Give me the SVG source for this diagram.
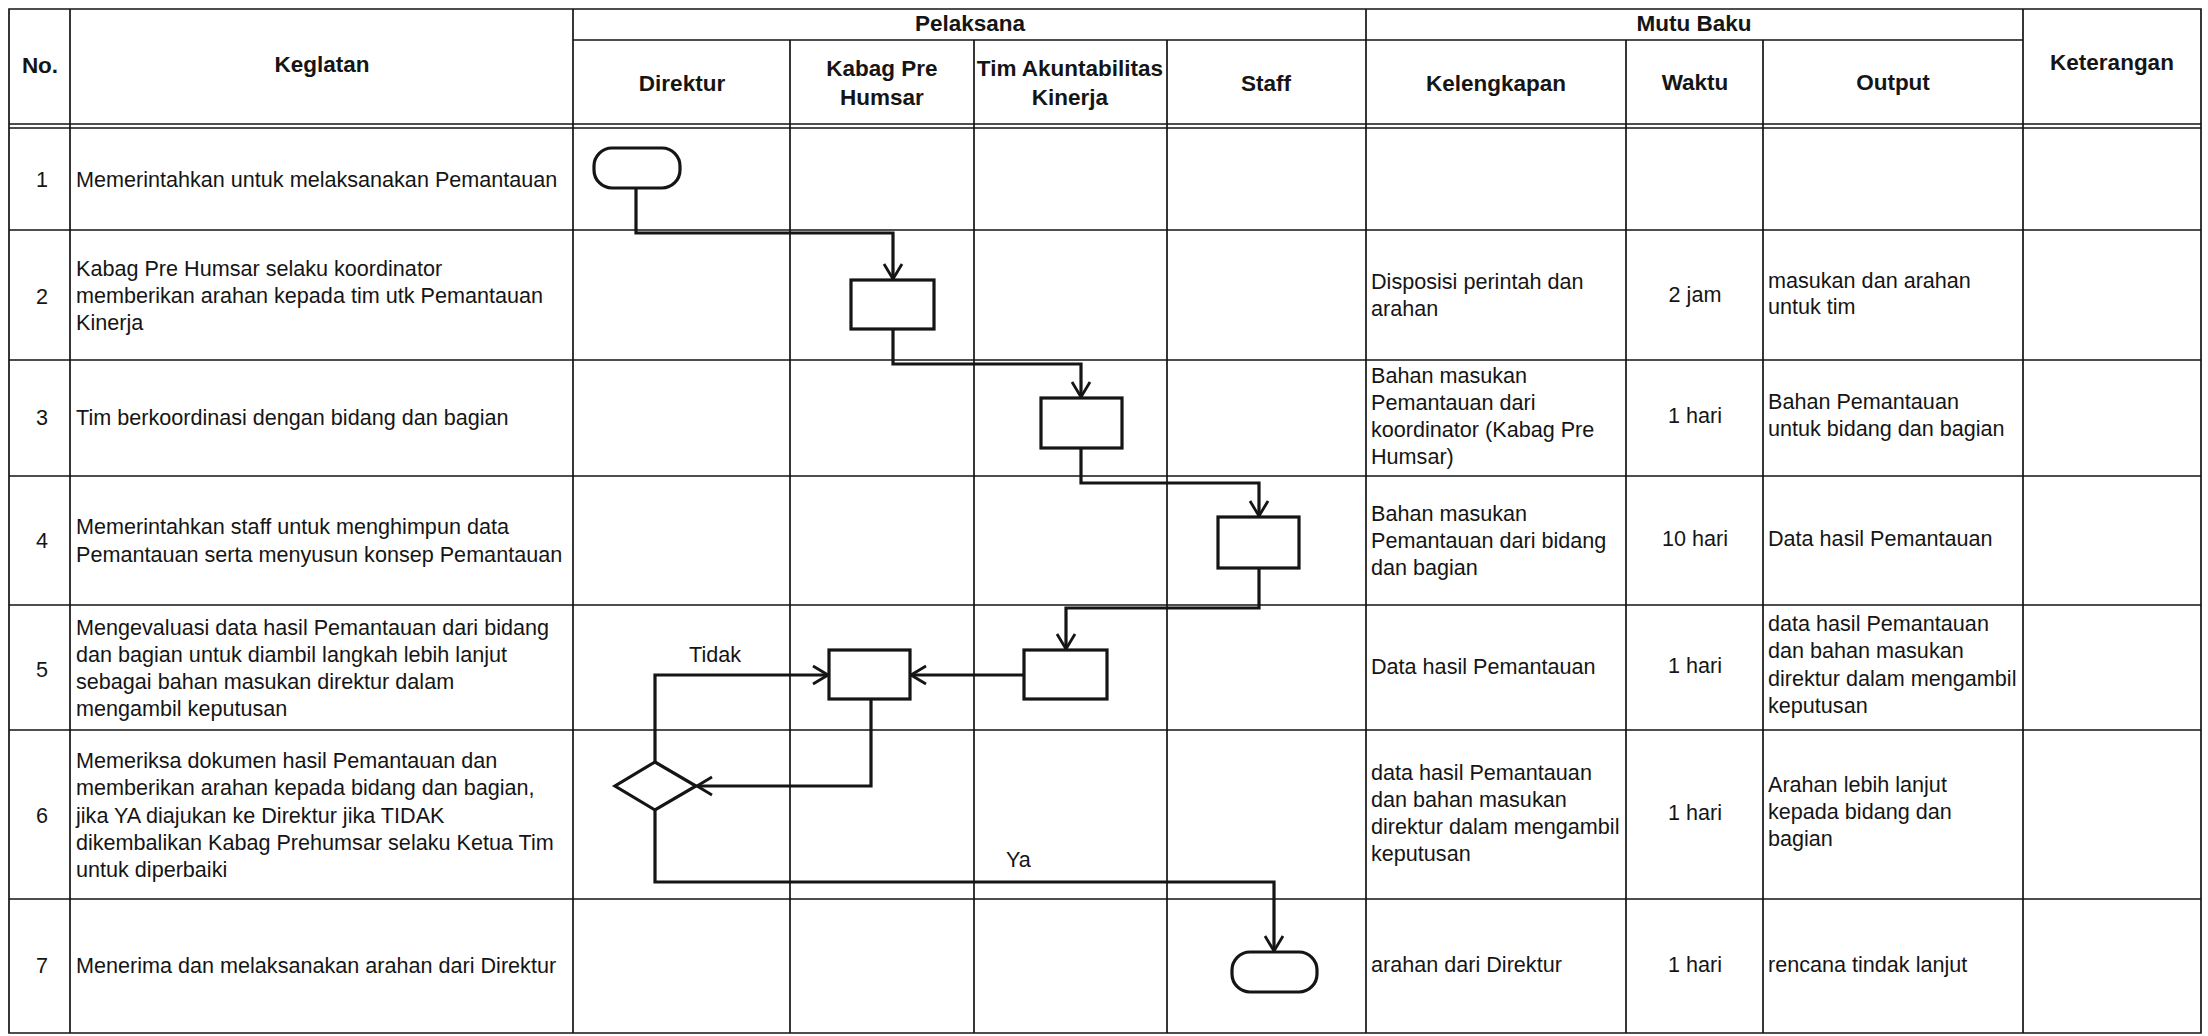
<svg xmlns="http://www.w3.org/2000/svg" width="2208" height="1036" viewBox="0 0 2208 1036">
<defs>
<style>
.g{stroke:#151515;stroke-width:1.7;fill:none}
.c{stroke:#151515;stroke-width:3.2;fill:none}
.n{fill:#fff;stroke:#151515;stroke-width:3.2}
text{font-family:"Liberation Sans",Arial,sans-serif;font-size:21.6px;fill:#151515}
.h{font-weight:bold;font-size:22.5px}
.m{text-anchor:middle}
</style>
<marker id="ah" markerUnits="userSpaceOnUse" markerWidth="18" markerHeight="22" viewBox="0 0 18 22" refX="16" refY="11" orient="auto">
<path d="M1,2 L16,11 L1,20" fill="none" stroke="#151515" stroke-width="2.8"/>
</marker>
</defs>
<rect width="2208" height="1036" fill="#fff"/>
<g id="grid">
<path class="g" d="M9,9H2201V1033H9Z"/>
<path class="g" d="M70,9V1033M573,9V1033M790,40V1033M974,40V1033M1167,40V1033M1366,9V1033M1626,40V1033M1763,40V1033M2023,9V1033"/>
<path class="g" d="M573,40H2023M9,124H2201M9,128H2201M9,230H2201M9,360H2201M9,476H2201M9,605H2201M9,730H2201M9,899H2201"/>
</g>
<g id="header">
<text class="h m" x="40" y="73">No.</text>
<text class="h m" x="322" y="72">Keglatan</text>
<text class="h m" x="970" y="31">Pelaksana</text>
<text class="h m" x="1694" y="31">Mutu Baku</text>
<text class="h m" x="2112" y="70">Keterangan</text>
<text class="h m" x="682" y="91">Direktur</text>
<text class="h m" x="882" y="76">Kabag Pre</text>
<text class="h m" x="882" y="105">Humsar</text>
<text class="h m" x="1070" y="76">Tim Akuntabilitas</text>
<text class="h m" x="1070" y="105">Kinerja</text>
<text class="h m" x="1266" y="91">Staff</text>
<text class="h m" x="1496" y="91">Kelengkapan</text>
<text class="h m" x="1695" y="90">Waktu</text>
<text class="h m" x="1893" y="90">Output</text>
</g>
<g id="row1">
<text class="m" x="42" y="187">1</text>
<text x="76" y="187">Memerintahkan untuk melaksanakan Pemantauan</text>
</g>
<g id="row2">
<text class="m" x="42" y="304">2</text>
<text x="76" y="276">Kabag Pre Humsar selaku koordinator</text>
<text x="76" y="303">memberikan arahan kepada tim utk Pemantauan</text>
<text x="76" y="330">Kinerja</text>
<text x="1371" y="289">Disposisi perintah dan</text>
<text x="1371" y="316">arahan</text>
<text class="m" x="1695" y="302">2 jam</text>
<text x="1768" y="288">masukan dan arahan</text>
<text x="1768" y="314">untuk tim</text>
</g>
<g id="row3">
<text class="m" x="42" y="425">3</text>
<text x="76" y="425">Tim berkoordinasi dengan bidang dan bagian</text>
<text x="1371" y="383">Bahan masukan</text>
<text x="1371" y="410">Pemantauan dari</text>
<text x="1371" y="437">koordinator (Kabag Pre</text>
<text x="1371" y="464">Humsar)</text>
<text class="m" x="1695" y="423">1 hari</text>
<text x="1768" y="409">Bahan Pemantauan</text>
<text x="1768" y="436">untuk bidang dan bagian</text>
</g>
<g id="row4">
<text class="m" x="42" y="548">4</text>
<text x="76" y="534">Memerintahkan staff untuk menghimpun data</text>
<text x="76" y="562">Pemantauan serta menyusun konsep Pemantauan</text>
<text x="1371" y="521">Bahan masukan</text>
<text x="1371" y="548">Pemantauan dari bidang</text>
<text x="1371" y="575">dan bagian</text>
<text class="m" x="1695" y="546">10 hari</text>
<text x="1768" y="546">Data hasil Pemantauan</text>
</g>
<g id="row5">
<text class="m" x="42" y="677">5</text>
<text x="76" y="635">Mengevaluasi data hasil Pemantauan dari bidang</text>
<text x="76" y="662">dan bagian untuk diambil langkah lebih lanjut</text>
<text x="76" y="689">sebagai bahan masukan direktur dalam</text>
<text x="76" y="716">mengambil keputusan</text>
<text x="1371" y="674">Data hasil Pemantauan</text>
<text class="m" x="1695" y="673">1 hari</text>
<text x="1768" y="631">data hasil Pemantauan</text>
<text x="1768" y="658">dan bahan masukan</text>
<text x="1768" y="686">direktur dalam mengambil</text>
<text x="1768" y="713">keputusan</text>
</g>
<g id="row6">
<text class="m" x="42" y="823">6</text>
<text x="76" y="768">Memeriksa dokumen hasil Pemantauan dan</text>
<text x="76" y="795">memberikan arahan kepada bidang dan bagian,</text>
<text x="76" y="823">jika YA diajukan ke Direktur jika TIDAK</text>
<text x="76" y="850">dikembalikan Kabag Prehumsar selaku Ketua Tim</text>
<text x="76" y="877">untuk diperbaiki</text>
<text x="1371" y="780">data hasil Pemantauan</text>
<text x="1371" y="807">dan bahan masukan</text>
<text x="1371" y="834">direktur dalam mengambil</text>
<text x="1371" y="861">keputusan</text>
<text class="m" x="1695" y="820">1 hari</text>
<text x="1768" y="792">Arahan lebih lanjut</text>
<text x="1768" y="819">kepada bidang dan</text>
<text x="1768" y="846">bagian</text>
</g>
<g id="row7">
<text class="m" x="42" y="973">7</text>
<text x="76" y="973">Menerima dan melaksanakan arahan dari Direktur</text>
<text x="1371" y="972">arahan dari Direktur</text>
<text class="m" x="1695" y="972">1 hari</text>
<text x="1768" y="972">rencana tindak lanjut</text>
</g>
<g id="connectors">
<path class="c" d="M636,188V233H893V279" marker-end="url(#ah)"/>
<path class="c" d="M893,329V364H1081V397" marker-end="url(#ah)"/>
<path class="c" d="M1081,448V483H1259V516" marker-end="url(#ah)"/>
<path class="c" d="M1259,568V608H1066V649" marker-end="url(#ah)"/>
<path class="c" d="M1024,675H911" marker-end="url(#ah)"/>
<path class="c" d="M871,699V786H697" marker-end="url(#ah)"/>
<path class="c" d="M655,762V675H828" marker-end="url(#ah)"/>
<path class="c" d="M655,810V882H1274V951" marker-end="url(#ah)"/>
<text x="689" y="662">Tidak</text>
<text x="1006" y="867">Ya</text>
</g>
<g id="start"><rect class="n" x="594" y="148" width="86" height="40" rx="18"/></g>
<g id="box2"><rect class="n" x="851" y="280" width="83" height="49"/></g>
<g id="box3"><rect class="n" x="1041" y="398" width="81" height="50"/></g>
<g id="box4"><rect class="n" x="1218" y="517" width="81" height="51"/></g>
<g id="box5b"><rect class="n" x="1024" y="650" width="83" height="49"/></g>
<g id="box5a"><rect class="n" x="829" y="650" width="81" height="49"/></g>
<g id="decision"><path class="n" d="M655,762L696,786L655,810L615,786Z"/></g>
<g id="end"><rect class="n" x="1232" y="952" width="85" height="40" rx="18"/></g>
</svg>
